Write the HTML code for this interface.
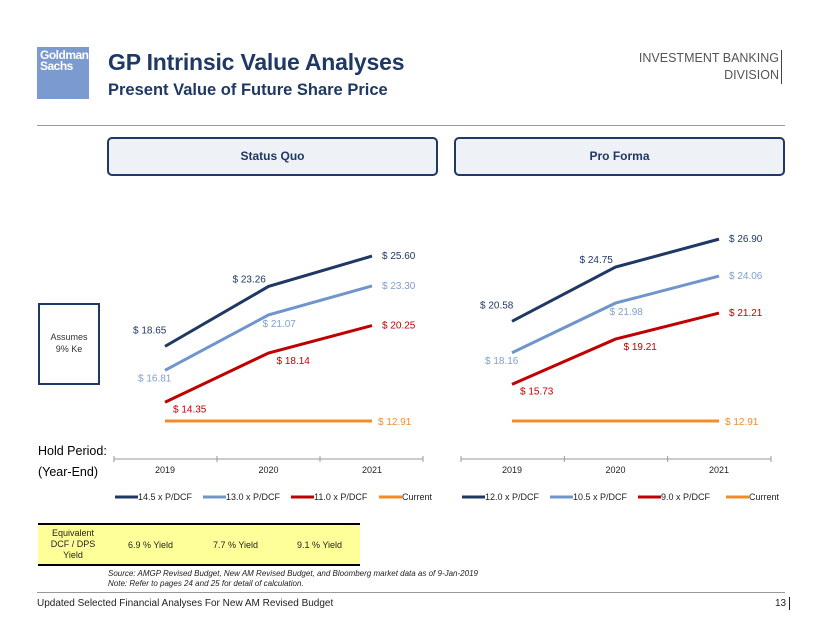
<!DOCTYPE html>
<html><head><meta charset="utf-8">
<style>
body{margin:0;background:#fff;font-family:"Liberation Sans",sans-serif;}
#page{position:relative;width:822px;height:635px;overflow:hidden;background:#fff;}
.abs{position:absolute;}
</style></head>
<body>
<div id="page">
<div class="abs" style="left:37px;top:47px;width:52px;height:52px;background:#7b9bd0;color:#fff;font:bold 12px/11px 'Liberation Sans Narrow','Liberation Sans',sans-serif;padding:3px 0 0 3px;box-sizing:border-box;letter-spacing:-0.5px">Goldman<br>Sachs</div>
<div class="abs" style="left:108px;top:49px;font-weight:bold;font-size:23px;letter-spacing:-0.2px;color:#1f3864">GP Intrinsic Value Analyses</div>
<div class="abs" style="left:108px;top:81px;font-weight:bold;font-size:16.5px;color:#1f3864">Present Value of Future Share Price</div>
<div class="abs" style="right:40px;top:50px;text-align:right;font-size:12.5px;line-height:17px;color:#555;border-right:1px solid #444;padding-right:2px">INVESTMENT BANKING<br>DIVISION</div>
<div class="abs" style="left:37px;top:125px;width:748px;height:1px;background:#999"></div>
<div class="abs" style="left:107px;top:137px;width:331px;height:39px;box-sizing:border-box;border:2px solid #1f3864;border-radius:5px;background:#eef1f5;text-align:center;font:bold 12px/35px 'Liberation Sans',sans-serif;color:#1f3864">Status Quo</div>
<div class="abs" style="left:454px;top:137px;width:331px;height:39px;box-sizing:border-box;border:2px solid #1f3864;border-radius:5px;background:#eef1f5;text-align:center;font:bold 12px/35px 'Liberation Sans',sans-serif;color:#1f3864">Pro Forma</div>
<div class="abs" style="left:38px;top:303px;width:62px;height:82px;box-sizing:border-box;border:2px solid #1f3864;font-size:9px;line-height:12px;color:#333;text-align:center;padding-top:26px">Assumes<br>9% Ke</div>
<div class="abs" style="left:38px;top:441px;font-size:12.5px;line-height:21px;color:#000">Hold Period:<br>(Year-End)</div>
<svg class="abs" id="chart" style="left:0;top:0" width="822" height="635"></svg>
<div class="abs" style="left:38px;top:523px;width:322px;height:43px;box-sizing:border-box;background:#ffff99;border-top:2px solid #000;border-bottom:2px solid #000;font-size:9px;color:#222">
<div class="abs" style="left:0;width:70px;top:3px;text-align:center;line-height:11px">Equivalent<br>DCF / DPS<br>Yield</div>
<div class="abs" style="left:90px;top:15px">6.9 % Yield</div>
<div class="abs" style="left:175px;top:15px">7.7 % Yield</div>
<div class="abs" style="left:259px;top:15px">9.1 % Yield</div>
</div>
<div class="abs" style="left:108px;top:569px;font-size:8px;line-height:10px;font-style:italic;color:#222">Source: AMGP Revised Budget, New AM Revised Budget, and Bloomberg market data as of 9-Jan-2019<br>Note: Refer to pages 24 and 25 for detail of calculation.</div>
<div class="abs" style="left:37px;top:592px;width:748px;height:1px;background:#999"></div>
<div class="abs" style="left:37px;top:598px;font-size:10px;color:#222">Updated Selected Financial Analyses For New AM Revised Budget</div>
<div class="abs" style="left:775px;top:597px;font-size:10px;color:#222;border-right:1px solid #222;padding-right:3px;line-height:13px">13</div>
</div>
<script>
const years = ["2019","2020","2021"];
const sqNames = ["14.5 x P/DCF","13.0 x P/DCF","11.0 x P/DCF","Current"];
const sqHigh = [18.65,23.26,25.60];
const sqMid = [16.81,21.07,23.30];
const sqLow = [14.35,18.14,20.25];
const sqCurrent = [12.91,12.91,12.91];
const pfNames = ["12.0 x P/DCF","10.5 x P/DCF","9.0 x P/DCF","Current"];
const pfHigh = [20.58,24.75,26.90];
const pfMid = [18.16,21.98,24.06];
const pfLow = [15.73,19.21,21.21];
const pfCurrent = [12.91,12.91,12.91];

const NS="http://www.w3.org/2000/svg";
const svg=document.getElementById('chart');
const colors=["#1f3864","#6f95cc","#c00000","#f28c28"];
const textColors=["#1f3864","#7fa0d0","#c00000","#f28c28"];
function yS(v){return 421-(v-12.91)*13;}
const offs=[
 [[-32,-13],[-36,-4],[10,3]],
 [[-27,11],[-6,12],[10,3]],
 [[8,10],[8,11],[10,3]],
 [null,null,[6,4]]
];
function el(tag,attrs,parent){const e=document.createElementNS(NS,tag);for(const k in attrs)e.setAttribute(k,attrs[k]);(parent||svg).appendChild(e);return e;}
function drawPanel(x0,axL,axR,series,names,key){
  const xS=i=>x0+i*103.5;
  const ax=el('line',{x1:axL,x2:axR,y1:459,y2:459,stroke:'#999','stroke-width':1});
  
  
  const step=(axR-axL)/3;
  for(let i=0;i<=3;i++){const t=el('line',{x1:axL+i*step,x2:axL+i*step,y1:456,y2:462,stroke:'#999'});
    
    }
  years.forEach((y,i)=>{const t=el('text',{x:xS(i),y:473,'text-anchor':'middle','font-size':9,fill:'#222','font-family':'Liberation Sans'});t.textContent=y;
    
    });
  series.forEach((s,si)=>{
    const pts=s.map((v,i)=>xS(i)+','+yS(v)).join(' ');
    const pl=el('polyline',{points:pts,fill:'none',stroke:colors[si],'stroke-width':3});
    
    
    s.forEach((v,i)=>{const o=offs[si][i];if(!o)return;
      const t=el('text',{x:xS(i)+o[0],y:yS(v)+o[1],'font-size':10,fill:textColors[si],'font-family':'Liberation Sans'});
      t.textContent='$ '+v.toFixed(2);
      
      });
  });
  let lx=axL+1;
  names.forEach((n,i)=>{
    const l=el('line',{x1:lx,x2:lx+23,y1:497,y2:497,stroke:colors[i],'stroke-width':3});
    
    
    const t=el('text',{x:lx+23,y:500,'font-size':9,fill:'#222','font-family':'Liberation Sans'});t.textContent=n;
    
    
    lx+=88;
  });
}
drawPanel(165,114,423,[sqHigh,sqMid,sqLow,sqCurrent],sqNames,'status-quo');
drawPanel(512,461,771,[pfHigh,pfMid,pfLow,pfCurrent],pfNames,'pro-forma');
</script>
</body></html>
